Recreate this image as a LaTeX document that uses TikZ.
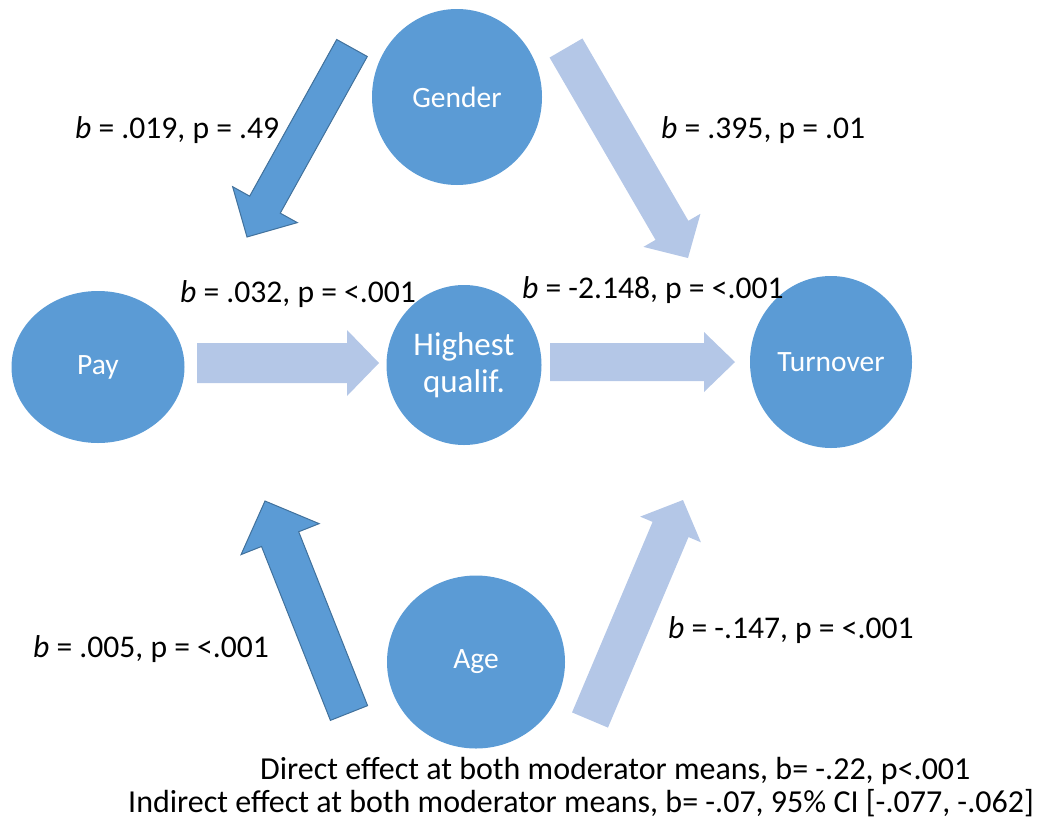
\documentclass[tikz,border=0pt]{standalone}
\usepackage{fontspec}
\setmainfont{Carlito}
\usetikzlibrary{shapes.geometric,calc}

\definecolor{nodeblue}{HTML}{5B9BD5}
\definecolor{paleblue}{HTML}{B4C7E7}
\definecolor{edgeblue}{HTML}{41719C}

% block arrow: #1 style, #2 tail, #3 tip, #4 half shaft width, #5 half head width, #6 head length
\newcommand{\drawblockarrow}[6]{%
  \coordinate (ba-base) at ($(#3)!#6!(#2)$);
  \path[#1] ($(#2)!#4!90:(#3)$) -- ($(ba-base)!#4!90:(#3)$)
    -- ($(ba-base)!#5!90:(#3)$) -- (#3)
    -- ($(ba-base)!#5!-90:(#3)$) -- ($(ba-base)!#4!-90:(#3)$)
    -- ($(#2)!#4!-90:(#3)$) -- cycle;
}

\tikzset{
  var/.style={ellipse, fill=nodeblue, draw=none, text=white, inner sep=0pt,
    font=\fontsize{29.5}{35}\selectfont, align=center},
  darkarrow/.style={fill=nodeblue, draw=edgeblue, line width=1pt, line join=miter},
  palearrow/.style={fill=paleblue, draw=none},
  coef/.style={anchor=base west, inner sep=0pt, font=\fontsize{31.6}{37}\selectfont},
  note/.style={anchor=base west, inner sep=0pt, font=\fontsize{32}{36}\selectfont},
}

\begin{document}
\begin{tikzpicture}[x=1pt, y=-1pt]
\useasboundingbox (0,0) rectangle (1040,819);

% variables
\node[var, minimum width=170, minimum height=176] (gender) at (457,97) {Gender};
\node[var, minimum width=173, minimum height=152] (pay) at (98,367) {Pay};
\node[var, minimum width=155, minimum height=160, font=\fontsize{33}{37}\selectfont] (qual) at (464,365) {Highest\\qualif.};
\node[var, minimum width=162, minimum height=172] (turn) at (831,362) {Turnover};
\node[var, minimum width=178, minimum height=173] (age) at (476,662) {Age};

% arrow end points
\coordinate (gp-tail) at (352,48);   \coordinate (gp-tip) at (247,237);
\coordinate (gt-tail) at (566,48);   \coordinate (gt-tip) at (688,258);
\coordinate (pq-tail) at (197,363);  \coordinate (pq-tip) at (379,363);
\coordinate (qt-tail) at (550,362);  \coordinate (qt-tip) at (735,362);
\coordinate (aq-tail) at (349,713);  \coordinate (aq-tip) at (265,501);
\coordinate (at-tail) at (590,720);  \coordinate (at-tip) at (683,500);

% block arrows
\drawblockarrow{darkarrow}{gp-tail}{gp-tip}{17.5pt}{37pt}{37pt}
\drawblockarrow{palearrow}{gt-tail}{gt-tip}{19pt}{33pt}{32pt}
\drawblockarrow{palearrow}{pq-tail}{pq-tip}{20pt}{33pt}{32pt}
\drawblockarrow{palearrow}{qt-tail}{qt-tip}{19pt}{30pt}{31pt}
\drawblockarrow{darkarrow}{aq-tail}{aq-tip}{20pt}{42pt}{41pt}
\drawblockarrow{palearrow}{at-tail}{at-tip}{19.5pt}{33pt}{32pt}

% coefficients
\node[coef] (c1) at (75,138)  {\textit{b} = .019, p = .49};
\node[coef] (c2) at (661,138) {\textit{b} = .395, p = .01};
\node[coef] (c3) at (180,302) {\textit{b} = .032, p = <.001};
\node[coef] (c4) at (522,298) {\textit{b} = -2.148, p = <.001};
\node[coef] (c5) at (33,657)  {\textit{b} = .005, p = <.001};
\node[coef] (c6) at (668,638) {\textit{b} = -.147, p = <.001};

% summary of effects
\node[note] (n1) at (260,779) {Direct effect at both moderator means, b= -.22, p<.001};
\node[note] (n2) at (128,812) {Indirect effect at both moderator means, b= -.07, 95\% CI [-.077, -.062]};
\end{tikzpicture}
\end{document}
